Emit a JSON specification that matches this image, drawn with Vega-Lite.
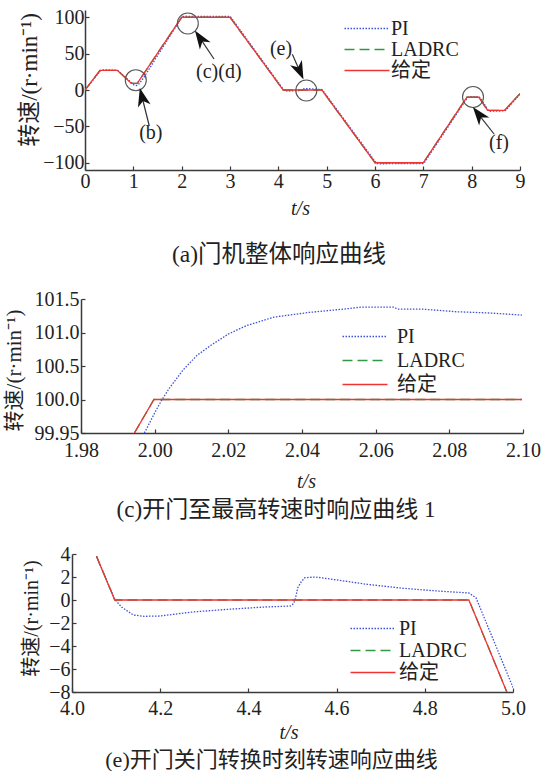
{
  "$schema": "https://vega.github.io/schema/vega-lite/v6.json",
  "background": "white",
  "padding": {"left": 0, "top": 7, "right": 0, "bottom": 0},
  "config": {
    "view": {"stroke": null},
    "font": "Liberation Serif",
    "style": {
      "guide-label": {"font": "Liberation Serif", "fontSize": 20, "fill": "#222"},
      "guide-title": {"font": "Liberation Serif, Noto Sans CJK SC", "fontWeight": "normal", "fill": "#222"}
    },
    "axis": {
      "grid": false, "domainColor": "#3a3a3a", "domainWidth": 1.5,
      "tickColor": "#3a3a3a", "tickWidth": 1.2, "tickSize": -4,
      "labelFont": "Liberation Serif", "labelFontSize": 20, "labelColor": "#222",
      "labelFlush": false, "labelOverlap": false, "labelBound": false,
      "titleFont": "Liberation Serif, Noto Sans CJK SC", "titleFontWeight": "normal", "titleColor": "#222"
    },
    "legend": {
      "title": null, "orient": "none", "direction": "vertical", "padding": 0,
      "symbolType": "M-3,0L3,0", "symbolSize": 225, "symbolStrokeWidth": 1.5,
      "labelFont": "Liberation Serif, Noto Sans CJK SC", "labelFontSize": 20, "labelColor": "#222",
      "labelBaseline": "middle"
    },
    "title": {"font": "Liberation Serif, Noto Sans CJK SC", "fontWeight": "normal", "color": "#222", "orient": "bottom", "anchor": "middle", "baseline": "top"}
  },
  "datasets": {
    "a_lines": [
      {"t": 0, "v": 0, "s": "PI"}, {"t": 0.32, "v": 26.5, "s": "PI"}, {"t": 0.35, "v": 27.6, "s": "PI"}, {"t": 0.67, "v": 27.3, "s": "PI"},
      {"t": 0.97, "v": 9.6, "s": "PI"}, {"t": 1.02, "v": 6.5, "s": "PI"}, {"t": 1.07, "v": 6.2, "s": "PI"}, {"t": 1.12, "v": 8.5, "s": "PI"},
      {"t": 1.2, "v": 15.5, "s": "PI"}, {"t": 2.0, "v": 99.8, "s": "PI"}, {"t": 2.02, "v": 101.0, "s": "PI"}, {"t": 2.05, "v": 101.35, "s": "PI"},
      {"t": 2.065, "v": 101.38, "s": "PI"}, {"t": 3.0, "v": 101.2, "s": "PI"}, {"t": 3.03, "v": 99, "s": "PI"}, {"t": 4.1, "v": 1.2, "s": "PI"},
      {"t": 4.14, "v": -1.3, "s": "PI"}, {"t": 4.2, "v": -1.4, "s": "PI"}, {"t": 4.5, "v": -0.5, "s": "PI"}, {"t": 4.53, "v": 1.9, "s": "PI"},
      {"t": 4.56, "v": 2.0, "s": "PI"}, {"t": 4.9, "v": 0.6, "s": "PI"}, {"t": 4.92, "v": -0.5, "s": "PI"}, {"t": 6.01, "v": -99, "s": "PI"},
      {"t": 6.04, "v": -101.2, "s": "PI"}, {"t": 6.1, "v": -101.4, "s": "PI"}, {"t": 7.0, "v": -101.2, "s": "PI"}, {"t": 7.03, "v": -99, "s": "PI"},
      {"t": 7.91, "v": -10.6, "s": "PI"}, {"t": 7.95, "v": -9, "s": "PI"}, {"t": 8.15, "v": -9.2, "s": "PI"}, {"t": 8.18, "v": -11, "s": "PI"},
      {"t": 8.34, "v": -27.5, "s": "PI"}, {"t": 8.38, "v": -29.2, "s": "PI"}, {"t": 8.68, "v": -28.7, "s": "PI"}, {"t": 8.71, "v": -27.5, "s": "PI"},
      {"t": 9.0, "v": -5.6, "s": "PI"},
      {"t": 0, "v": 0, "s": "LADRC"}, {"t": 0.31, "v": 27, "s": "LADRC"}, {"t": 0.67, "v": 27, "s": "LADRC"}, {"t": 0.96, "v": 9, "s": "LADRC"},
      {"t": 1.08, "v": 9, "s": "LADRC"}, {"t": 2.0, "v": 100, "s": "LADRC"}, {"t": 3.0, "v": 100, "s": "LADRC"}, {"t": 4.1, "v": 0, "s": "LADRC"},
      {"t": 4.9, "v": 0, "s": "LADRC"}, {"t": 6.0, "v": -100, "s": "LADRC"}, {"t": 7.0, "v": -100, "s": "LADRC"}, {"t": 7.9, "v": -10, "s": "LADRC"},
      {"t": 8.15, "v": -10, "s": "LADRC"}, {"t": 8.33, "v": -28, "s": "LADRC"}, {"t": 8.68, "v": -28, "s": "LADRC"}, {"t": 9.0, "v": -5, "s": "LADRC"},
      {"t": 0, "v": 0, "s": "给定"}, {"t": 0.31, "v": 27, "s": "给定"}, {"t": 0.67, "v": 27, "s": "给定"}, {"t": 0.96, "v": 9, "s": "给定"},
      {"t": 1.08, "v": 9, "s": "给定"}, {"t": 2.0, "v": 100, "s": "给定"}, {"t": 3.0, "v": 100, "s": "给定"}, {"t": 4.1, "v": 0, "s": "给定"},
      {"t": 4.9, "v": 0, "s": "给定"}, {"t": 6.0, "v": -100, "s": "给定"}, {"t": 7.0, "v": -100, "s": "给定"}, {"t": 7.9, "v": -10, "s": "给定"},
      {"t": 8.15, "v": -10, "s": "给定"}, {"t": 8.33, "v": -28, "s": "给定"}, {"t": 8.68, "v": -28, "s": "给定"}, {"t": 9.0, "v": -5, "s": "给定"}
    ],
    "a_circ": [
      {"t": 1.051, "v": 13.5}, {"t": 2.127, "v": 91.4}, {"t": 4.579, "v": -0.7}, {"t": 8.028, "v": -9.6}
    ],
    "a_arrow": [
      {"t": 1.33, "v": -49.5, "t2": 1.18, "v2": -9.6, "deg": -14},
      {"t": 2.669, "v": 42.6, "t2": 2.381, "v2": 71.3, "deg": -34},
      {"t": 4.289, "v": 49.1, "t2": 4.443, "v2": 26.1, "deg": 156},
      {"t": 8.463, "v": -60.5, "t2": 8.142, "v2": -33.4, "deg": -38}
    ],
    "a_lab": [
      {"t": 1.361, "v": -59.8, "lab": "(b)"}, {"t": 2.768, "v": 24.7, "lab": "(c)(d)"},
      {"t": 4.055, "v": 57, "lab": "(e)"}, {"t": 8.566, "v": -72.9, "lab": "(f)"}
    ],
    "c_lines": [
      {"t": 1.9972, "v": 99.5, "s": "PI"}, {"t": 2.0002, "v": 99.82, "s": "PI"}, {"t": 2.002, "v": 100.0, "s": "PI"}, {"t": 2.004, "v": 100.17, "s": "PI"},
      {"t": 2.0077, "v": 100.44, "s": "PI"}, {"t": 2.0115, "v": 100.66, "s": "PI"}, {"t": 2.0153, "v": 100.81, "s": "PI"}, {"t": 2.0201, "v": 100.98, "s": "PI"},
      {"t": 2.0248, "v": 101.1, "s": "PI"}, {"t": 2.0324, "v": 101.23, "s": "PI"}, {"t": 2.042, "v": 101.3, "s": "PI"}, {"t": 2.0515, "v": 101.35, "s": "PI"},
      {"t": 2.0562, "v": 101.38, "s": "PI"}, {"t": 2.0648, "v": 101.38, "s": "PI"}, {"t": 2.066, "v": 101.35, "s": "PI"}, {"t": 2.0724, "v": 101.35, "s": "PI"},
      {"t": 2.0819, "v": 101.31, "s": "PI"}, {"t": 2.0914, "v": 101.29, "s": "PI"}, {"t": 2.0997, "v": 101.26, "s": "PI"},
      {"t": 1.9945, "v": 99.5, "s": "LADRC"}, {"t": 1.9998, "v": 100, "s": "LADRC"}, {"t": 2.0997, "v": 100, "s": "LADRC"},
      {"t": 1.9945, "v": 99.5, "s": "给定"}, {"t": 1.9998, "v": 100, "s": "给定"}, {"t": 2.0997, "v": 100, "s": "给定"}
    ],
    "e_lines": [
      {"t": 4.0555, "v": 3.8, "s": "PI"}, {"t": 4.097, "v": 0.05, "s": "PI"}, {"t": 4.112, "v": -0.6, "s": "PI"}, {"t": 4.139, "v": -1.3, "s": "PI"},
      {"t": 4.163, "v": -1.42, "s": "PI"}, {"t": 4.2, "v": -1.39, "s": "PI"}, {"t": 4.274, "v": -1.04, "s": "PI"}, {"t": 4.353, "v": -0.81, "s": "PI"},
      {"t": 4.433, "v": -0.62, "s": "PI"}, {"t": 4.496, "v": -0.52, "s": "PI"}, {"t": 4.503, "v": -0.3, "s": "PI"}, {"t": 4.507, "v": 0.2, "s": "PI"},
      {"t": 4.512, "v": 1.07, "s": "PI"}, {"t": 4.52, "v": 1.6, "s": "PI"}, {"t": 4.528, "v": 1.94, "s": "PI"}, {"t": 4.552, "v": 2.0, "s": "PI"},
      {"t": 4.59, "v": 1.8, "s": "PI"}, {"t": 4.67, "v": 1.36, "s": "PI"}, {"t": 4.75, "v": 1.02, "s": "PI"}, {"t": 4.829, "v": 0.78, "s": "PI"},
      {"t": 4.9, "v": 0.61, "s": "PI"}, {"t": 4.916, "v": 0.2, "s": "PI"}, {"t": 5.0, "v": -7.6, "s": "PI"},
      {"t": 4.0555, "v": 3.8, "s": "LADRC"}, {"t": 4.097, "v": 0, "s": "LADRC"}, {"t": 4.9, "v": 0, "s": "LADRC"}, {"t": 4.986, "v": -8, "s": "LADRC"},
      {"t": 4.0555, "v": 3.8, "s": "给定"}, {"t": 4.097, "v": 0, "s": "给定"}, {"t": 4.9, "v": 0, "s": "给定"}, {"t": 4.986, "v": -8, "s": "给定"}
    ]
  },
  "spacing": 22,
  "resolve": {
    "scale": {"x": "independent", "y": "independent", "color": "independent", "strokeDash": "independent"},
    "axis": {"x": "independent", "y": "independent"},
    "legend": {"color": "independent", "strokeDash": "independent"}
  },
  "vconcat": [
    {
      "spacing": 0,
      "resolve": {
        "scale": {"x": "independent", "y": "independent", "color": "independent", "strokeDash": "independent"},
        "legend": {"color": "independent", "strokeDash": "independent"}
      },
      "hconcat": [
        {"width": 17.5, "height": 1, "data": {"values": []}, "mark": "point"},
        {
          "width": 435, "height": 160,
          "title": {"text": "(a)门机整体响应曲线", "dx": -23.5, "offset": 25, "fontSize": 23.5},
          "encoding": {
            "x": {"field": "t", "type": "quantitative", "scale": {"domain": [0, 9], "nice": false, "zero": false},
                  "axis": {"values": [0, 1, 2, 3, 4, 5, 6, 7, 8, 9], "title": "t/s", "titleX": 215, "titleY": 38, "titleBaseline": "middle", "titleFontSize": 20, "titleFont": "Liberation Serif", "titleFontStyle": "italic", "titleFontWeight": "normal", "labelFont": "Liberation Serif", "labelPadding": 5}},
            "y": {"field": "v", "type": "quantitative", "scale": {"domain": [-110, 110], "nice": false, "zero": false},
                  "axis": {"values": [-100, -50, 0, 50, 100], "title": "转速/(r·min⁻¹)", "titleX": -56, "titleY": 69.5, "titleAngle": 270, "titleAlign": "center", "titleBaseline": "middle", "titleFontSize": 23, "titleFont": "Liberation Serif, Noto Sans CJK SC", "titleFontWeight": "normal", "labelFont": "Liberation Serif", "labelPadding": 5}}
          },
          "layer": [
            {
              "data": {"name": "a_lines"},
              "transform": [{"filter": "datum.s == 'PI'"}],
              "mark": {"type": "line", "strokeWidth": 1.3, "clip": true},
              "encoding": {
                "color": {"field": "s", "type": "nominal", "scale": {"domain": ["PI", "LADRC", "给定"], "range": ["#3f51d6", "#2e9a46", "#f03434"]},
                          "legend": {"legendX": 272, "legendY": 8.5, "labelOffset": 14, "rowPadding": 1}},
                "strokeDash": {"field": "s", "type": "nominal", "scale": {"domain": ["PI", "LADRC", "给定"], "range": [[1.5, 1.5], [10, 5], [1, 0]]},
                          "legend": {"legendX": 272, "legendY": 8.5, "labelOffset": 14, "rowPadding": 1}}
              }
            },
            {
              "data": {"name": "a_lines"},
              "transform": [{"filter": "datum.s == 'LADRC'"}],
              "mark": {"type": "line", "strokeWidth": 1.3, "clip": true},
              "encoding": {"color": {"field": "s", "type": "nominal"}, "strokeDash": {"field": "s", "type": "nominal"}}
            },
            {
              "data": {"name": "a_lines"},
              "transform": [{"filter": "datum.s == '给定'"}],
              "mark": {"type": "line", "strokeWidth": 1.3, "clip": true},
              "encoding": {"color": {"field": "s", "type": "nominal"}, "strokeDash": {"field": "s", "type": "nominal"}}
            },
            {
              "data": {"name": "a_circ"},
              "mark": {"type": "point", "shape": "circle", "size": 441, "filled": false, "stroke": "#555", "strokeWidth": 1.1, "opacity": 1}
            },
            {
              "data": {"name": "a_arrow"},
              "mark": {"type": "rule", "color": "#333", "strokeWidth": 1.2},
              "encoding": {"x2": {"field": "t2"}, "y2": {"field": "v2"}}
            },
            {
              "data": {"name": "a_arrow"},
              "mark": {"type": "point", "shape": "M0,-1L0.7,1L0,0.45L-0.7,1Z", "filled": true, "color": "#111", "size": 340, "opacity": 1},
              "encoding": {"x": {"field": "t2", "type": "quantitative"}, "y": {"field": "v2", "type": "quantitative"}, "angle": {"field": "deg", "type": "quantitative", "scale": null}}
            },
            {
              "data": {"name": "a_lab"},
              "mark": {"type": "text", "font": "Liberation Serif", "fontSize": 20, "color": "#222", "align": "center", "baseline": "middle"},
              "encoding": {"text": {"field": "lab"}}
            }
          ]
        }
      ]
    },
    {
      "spacing": 0,
      "resolve": {
        "scale": {"x": "independent", "y": "independent", "color": "independent", "strokeDash": "independent"},
        "legend": {"color": "independent", "strokeDash": "independent"}
      },
      "hconcat": [
        {"width": 2.5, "height": 1, "data": {"values": []}, "mark": "point"},
        {
          "width": 442, "height": 134,
          "title": {"text": "(c)开门至最高转速时响应曲线 1", "dx": -26, "offset": 8, "fontSize": 23},
          "data": {"name": "c_lines"},
          "encoding": {
            "x": {"field": "t", "type": "quantitative", "scale": {"domain": [1.98, 2.1], "nice": false, "zero": false},
                  "axis": {"values": [1.98, 2.0, 2.02, 2.04, 2.06, 2.08, 2.1], "format": ".2f", "title": "t/s", "titleX": 225, "titleY": 48, "titleBaseline": "middle", "titleFontSize": 20, "titleFont": "Liberation Serif", "titleFontStyle": "italic", "titleFontWeight": "normal", "labelFont": "Liberation Serif", "labelPadding": 11}},
            "y": {"field": "v", "type": "quantitative", "scale": {"domain": [99.5, 101.5], "nice": false, "zero": false},
                  "axis": {"values": [99.5, 100, 100.5, 101, 101.5], "labelExpr": "datum.value == 99.5 ? '99.95' : format(datum.value, '.1f')", "title": "转速/(r·min⁻¹)", "titleX": -67, "titleY": 71, "titleAngle": 270, "titleAlign": "center", "titleBaseline": "middle", "titleFontSize": 21, "titleFont": "Liberation Serif, Noto Sans CJK SC", "titleFontWeight": "normal", "labelFont": "Liberation Serif", "labelPadding": 6}}
          },
          "layer": [
            {
              "transform": [{"filter": "datum.s == 'PI'"}],
              "mark": {"type": "line", "strokeWidth": 1.3, "clip": true},
              "encoding": {
                "color": {"field": "s", "type": "nominal", "scale": {"domain": ["PI", "LADRC", "给定"], "range": ["#3f51d6", "#2e9a46", "#f03434"]},
                          "legend": {"legendX": 274, "legendY": 27.5, "labelOffset": 22, "rowPadding": 4}},
                "strokeDash": {"field": "s", "type": "nominal", "scale": {"domain": ["PI", "LADRC", "给定"], "range": [[1.5, 1.5], [10, 5], [1, 0]]},
                          "legend": {"legendX": 274, "legendY": 27.5, "labelOffset": 22, "rowPadding": 4}}
              }
            },
            {
              "transform": [{"filter": "datum.s == 'LADRC'"}],
              "mark": {"type": "line", "strokeWidth": 1.3, "clip": true},
              "encoding": {"color": {"field": "s", "type": "nominal"}, "strokeDash": {"field": "s", "type": "nominal"}}
            },
            {
              "transform": [{"filter": "datum.s == '给定'"}],
              "mark": {"type": "line", "strokeWidth": 1.3, "clip": true},
              "encoding": {"color": {"field": "s", "type": "nominal"}, "strokeDash": {"field": "s", "type": "nominal"}}
            }
          ]
        }
      ]
    },
    {
      "spacing": 0,
      "resolve": {
        "scale": {"x": "independent", "y": "independent", "color": "independent", "strokeDash": "independent"},
        "legend": {"color": "independent", "strokeDash": "independent"}
      },
      "hconcat": [
        {"width": 21, "height": 1, "data": {"values": []}, "mark": "point"},
        {
          "width": 441, "height": 138,
          "title": {"text": "(e)开门关门转换时刻转速响应曲线", "dx": -21, "offset": 8, "fontSize": 22},
          "data": {"name": "e_lines"},
          "encoding": {
            "x": {"field": "t", "type": "quantitative", "scale": {"domain": [4.0, 5.0], "nice": false, "zero": false},
                  "axis": {"values": [4.0, 4.2, 4.4, 4.6, 4.8, 5.0], "format": ".1f", "title": "t/s", "titleX": 216.5, "titleY": 40, "titleBaseline": "middle", "titleFontSize": 20, "titleFont": "Liberation Serif", "titleFontStyle": "italic", "titleFontWeight": "normal", "labelFont": "Liberation Serif", "labelPadding": 10}},
            "y": {"field": "v", "type": "quantitative", "scale": {"domain": [-8, 4], "nice": false, "zero": false},
                  "axis": {"values": [-8, -6, -4, -2, 0, 2, 4], "title": "转速/(r·min⁻¹)", "titleX": -41, "titleY": 64, "titleAngle": 270, "titleAlign": "center", "titleBaseline": "middle", "titleFontSize": 20, "titleFont": "Liberation Serif, Noto Sans CJK SC", "titleFontWeight": "normal", "labelFont": "Liberation Serif", "labelPadding": 6}}
          },
          "layer": [
            {
              "transform": [{"filter": "datum.s == 'PI'"}],
              "mark": {"type": "line", "strokeWidth": 1.3, "clip": true},
              "encoding": {
                "color": {"field": "s", "type": "nominal", "scale": {"domain": ["PI", "LADRC", "给定"], "range": ["#3f51d6", "#2e9a46", "#f03434"]},
                          "legend": {"legendX": 291, "legendY": 64.5, "labelOffset": 16, "rowPadding": 2}},
                "strokeDash": {"field": "s", "type": "nominal", "scale": {"domain": ["PI", "LADRC", "给定"], "range": [[1.5, 1.5], [10, 5], [1, 0]]},
                          "legend": {"legendX": 291, "legendY": 64.5, "labelOffset": 16, "rowPadding": 2}}
              }
            },
            {
              "transform": [{"filter": "datum.s == 'LADRC'"}],
              "mark": {"type": "line", "strokeWidth": 1.3, "clip": true},
              "encoding": {"color": {"field": "s", "type": "nominal"}, "strokeDash": {"field": "s", "type": "nominal"}}
            },
            {
              "transform": [{"filter": "datum.s == '给定'"}],
              "mark": {"type": "line", "strokeWidth": 1.3, "clip": true},
              "encoding": {"color": {"field": "s", "type": "nominal"}, "strokeDash": {"field": "s", "type": "nominal"}}
            }
          ]
        }
      ]
    }
  ]
}
